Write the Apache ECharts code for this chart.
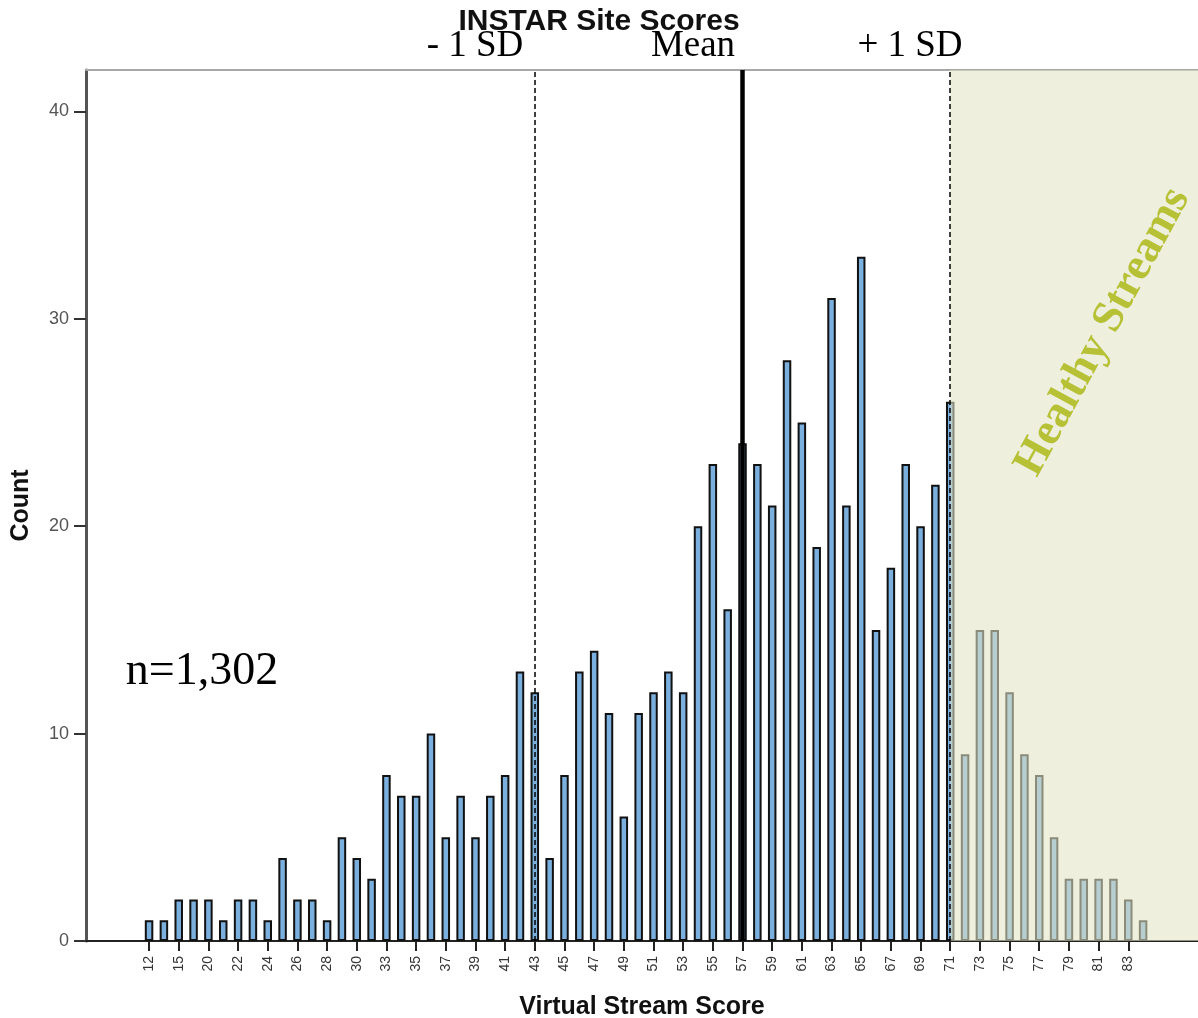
<!DOCTYPE html>
<html>
<head>
<meta charset="utf-8">
<script src="https://cdn.jsdelivr.net/npm/echarts@6/dist/echarts.min.js"></script>
<style>
html,body{margin:0;padding:0;background:#fff;}
#chart{width:1198px;height:1018px;}
</style>
</head>
<body>
<div id="chart"></div>
<script>
// Score categories (only every other one is labelled on the axis)
const categories = [
  '12','14','15','18','20','21','22','23','24','25','26','27','28','29','30','32',
  '33','34','35','36','37','38','39','40','41','42','43','44','45','46','47','48',
  '49','50','51','52','53','54','55','56','57','58','59','60','61','62','63','64',
  '65','66','67','68','69','70','71','72','73','74','75','76','77','78','79','80',
  '81','82','83','84'
];
const counts = [
  1,1,2,2,2,1,2,2,1,4,2,2,1,5,4,3,
  8,7,7,10,5,7,5,7,8,13,12,4,8,13,14,11,
  6,11,12,13,12,20,23,16,24,23,21,28,25,19,31,21,
  33,15,18,23,20,22,26,9,15,15,12,9,8,5,3,3,
  3,3,2,1
];
const yTicks = [0, 10, 20, 30, 40];
const minusSDIndex = 26;   // score 43
const meanIndex = 40;      // score 57
const plusSDIndex = 54;    // score 71
const xMin = -4.25, xMax = 70.7;

const barData = counts.map((c, i) => [i, c]);
const labelIdx = categories.map((_, i) => i).filter(i => i % 2 === 0);

const chart = echarts.init(document.getElementById('chart'));
chart.setOption({
  animation: false,
  backgroundColor: '#ffffff',
  title: {
    text: 'INSTAR Site Scores',
    left: 'center',
    top: 2,
    textStyle: {fontFamily: 'Liberation Sans, Arial', fontWeight: 'bold', fontSize: 30, color: '#111'}
  },
  grid: {left: 86, right: 0, top: 70, bottom: 77, containLabel: false, outerBoundsMode: 'none'},
  xAxis: [{
    type: 'value',
    min: xMin, max: xMax,
    name: 'Virtual Stream Score',
    nameLocation: 'middle',
    nameGap: 54,
    nameTextStyle: {fontFamily: 'Liberation Sans, Arial', fontWeight: 'bold', fontSize: 25, color: '#111'},
    splitLine: {show: false},
    axisLine: {show: true, onZero: false, lineStyle: {color: '#222', width: 2}},
    axisTick: {show: true, customValues: labelIdx, length: 10, lineStyle: {color: '#222', width: 2}},
    axisLabel: {
      customValues: labelIdx,
      rotate: 90,
      margin: 15,
      fontSize: 14,
      color: '#333',
      fontFamily: 'Liberation Sans, Arial',
      formatter: v => categories[Math.round(v)]
    }
  }, {
    type: 'value', position: 'top', min: xMin, max: xMax,
    axisLine: {show: true, onZero: false, lineStyle: {color: '#a8a8a8', width: 2}},
    axisTick: {show: false}, axisLabel: {show: false}, splitLine: {show: false}
  }],
  yAxis: {
    type: 'value',
    min: 0, max: 42, interval: 10,
    name: 'Count',
    nameLocation: 'middle',
    nameGap: 52,
    nameRotate: 90,
    nameTextStyle: {fontFamily: 'Liberation Sans, Arial', fontWeight: 'bold', fontSize: 25, color: '#111'},
    splitLine: {show: false},
    axisLine: {show: true, onZero: false, lineStyle: {color: '#555', width: 3}},
    axisTick: {show: true, customValues: yTicks, length: 12, lineStyle: {color: '#333', width: 2}},
    axisLabel: {
      margin: 17, fontSize: 18, color: '#555', fontFamily: 'Liberation Sans, Arial',
      customValues: yTicks
    }
  },
  series: [{
    type: 'bar',
    data: barData,
    barWidth: 8.5,
    z: 2,
    itemStyle: {color: '#7bb0de', borderColor: '#111', borderWidth: 2},
    markArea: {
      silent: true,
      z: 8,
      itemStyle: {color: 'rgba(228,228,199,0.58)'},
      data: [[{xAxis: plusSDIndex}, {xAxis: xMax}]]
    },
    markLine: {
      silent: true,
      z: 12,
      symbol: ['none', 'none'],
      label: {show: false},
      data: [
        {xAxis: minusSDIndex, lineStyle: {color: '#000', width: 1.5, type: [5, 3]}},
        {xAxis: meanIndex, lineStyle: {color: '#000', width: 4.5, type: 'solid'}},
        {xAxis: plusSDIndex, lineStyle: {color: '#000', width: 1.5, type: [5, 3]}}
      ]
    }
  }],
  graphic: [
    {type: 'text', z: 100, x: 475, y: 46, style: {text: '- 1 SD', font: '37px "Liberation Serif", "Times New Roman", serif', fill: '#000', align: 'center', verticalAlign: 'middle'}},
    {type: 'text', z: 100, x: 693, y: 46, style: {text: 'Mean', font: '37px "Liberation Serif", "Times New Roman", serif', fill: '#000', align: 'center', verticalAlign: 'middle'}},
    {type: 'text', z: 100, x: 910, y: 46, style: {text: '+ 1 SD', font: '37px "Liberation Serif", "Times New Roman", serif', fill: '#000', align: 'center', verticalAlign: 'middle'}},
    {type: 'text', z: 100, x: 202, y: 672, style: {text: 'n=1,302', font: '46px "Liberation Serif", "Times New Roman", serif', fill: '#000', align: 'center', verticalAlign: 'middle'}},
    {type: 'text', z: 100, x: 1103, y: 332, rotation: 61.5 * Math.PI / 180,
     style: {text: 'Healthy Streams', font: 'bold 45px "Liberation Serif", "Times New Roman", serif', fill: '#b6c136', align: 'center', verticalAlign: 'middle'}}
  ]
});
</script>
</body>
</html>
